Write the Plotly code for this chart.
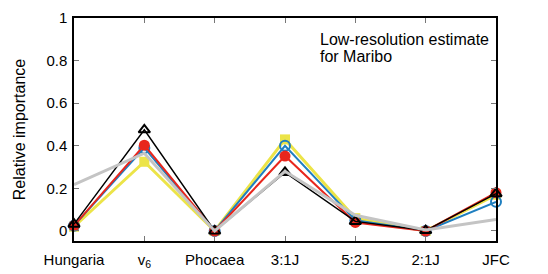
import plotly.graph_objects as go

categories = ["Hungaria", "v<sub>6</sub>", "Phocaea", "3:1J", "5:2J", "2:1J", "JFC"]
yellow_vals = [0.02, 0.325, 0.0, 0.43, 0.06, 0.0, 0.17]
blue_vals = [0.025, 0.39, 0.0, 0.40, 0.05, 0.0, 0.137]
red_vals = [0.025, 0.403, 0.0, 0.352, 0.04, 0.0, 0.18]
black_vals = [0.032, 0.475, 0.0, 0.275, 0.045, 0.002, 0.175]
gray_vals = [0.218, 0.365, 0.0, 0.28, 0.074, 0.005, 0.054]
yticks = [0, 0.2, 0.4, 0.6, 0.8, 1]
ytick_text = ["0", "0.2", "0.4", "0.6", "0.8", "1"]
note_lines = ["Low-resolution estimate", "for Maribo"]

x = list(range(len(categories)))

fig = go.Figure()
fig.add_trace(go.Scatter(x=x, y=yellow_vals, mode="lines+markers",
                         line=dict(color="#ece448", width=3),
                         marker=dict(symbol="square", size=10, color="#ece448"),
                         cliponaxis=False))
fig.add_trace(go.Scatter(x=x, y=blue_vals, mode="lines+markers",
                         line=dict(color="#1f7fc0", width=2),
                         marker=dict(symbol="circle-open", size=10, color="#1f7fc0",
                                     line=dict(width=2)),
                         cliponaxis=False))
fig.add_trace(go.Scatter(x=x, y=red_vals, mode="lines+markers",
                         line=dict(color="#e8261c", width=2),
                         marker=dict(symbol="circle", size=11, color="#e8261c"),
                         cliponaxis=False))
fig.add_trace(go.Scatter(x=x, y=black_vals, mode="lines+markers",
                         line=dict(color="black", width=1.5),
                         marker=dict(symbol="triangle-up-open", size=10, color="black",
                                     line=dict(width=2)),
                         cliponaxis=False))
fig.add_trace(go.Scatter(x=x, y=gray_vals, mode="lines",
                         line=dict(color="#c4c4c4", width=3),
                         cliponaxis=True))

for txt, yy in zip(note_lines, [0.903, 0.826]):
    fig.add_annotation(x=0.578, y=yy, xref="paper", yref="paper",
                       xanchor="left", yanchor="middle", align="left", showarrow=False,
                       text=txt, font=dict(size=16, color="black"))

fig.update_layout(
    width=548, height=274,
    margin=dict(l=74, r=52, t=18, b=33),
    paper_bgcolor="white", plot_bgcolor="white",
    showlegend=False,
    font=dict(family="Liberation Sans, Arial, sans-serif", size=15, color="black"),
)
fig.update_xaxes(range=[0, 6], tickvals=x, ticktext=categories,
                 showgrid=False, zeroline=False, automargin=False,
                 showline=True, linecolor="black", linewidth=1.5, mirror="allticks",
                 ticks="inside", ticklen=5, tickcolor="#777", tickwidth=1,
                 ticklabelstandoff=4, tickfont=dict(size=15))
fig.update_yaxes(range=[-0.047, 1.0], tickvals=yticks, ticktext=ytick_text,
                 showgrid=False, zeroline=False, automargin=False,
                 showline=True, linecolor="black", linewidth=1.5, mirror="allticks",
                 ticks="inside", ticklen=5, tickcolor="#777", tickwidth=1,
                 ticklabelstandoff=2, tickfont=dict(size=15),
                 title=dict(text="Relative importance", standoff=17, font=dict(size=16)))

fig.write_html("out.html", config={"displayModeBar": False},
               post_script="document.body.style.margin='0';document.body.style.padding='0';")
